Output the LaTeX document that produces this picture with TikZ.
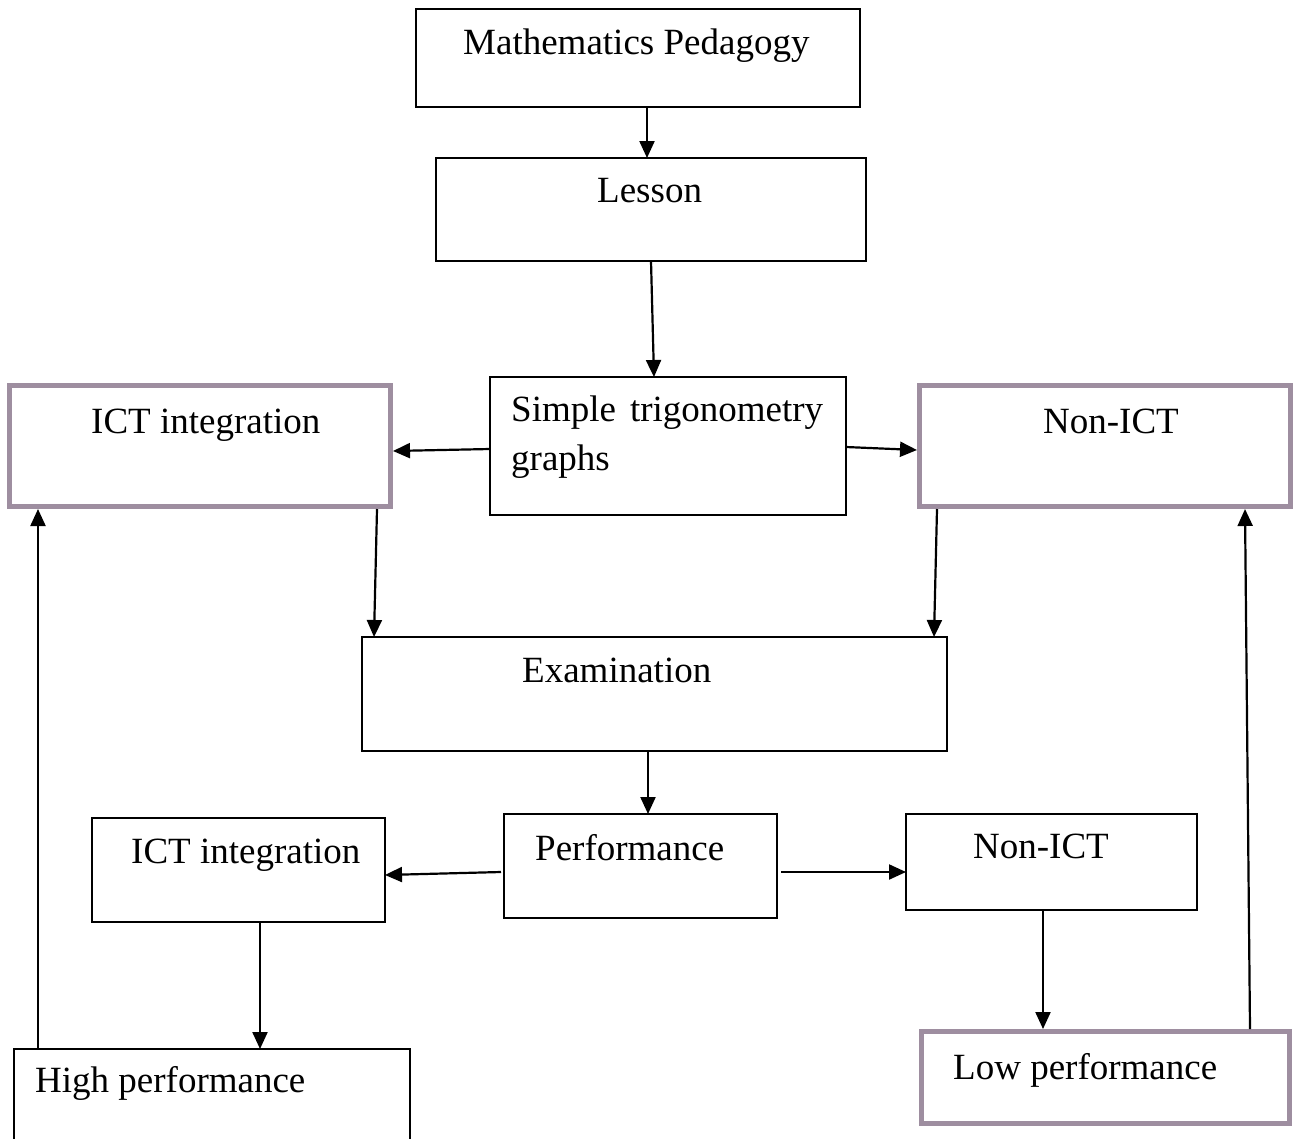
\documentclass[tikz,border=0pt]{standalone}
\usepackage{fontspec}
\setmainfont{Liberation Serif}
\usetikzlibrary{arrows.meta}
\definecolor{frame}{RGB}{158,142,160}
\begin{document}
\begin{tikzpicture}[x=1pt,y=-1pt,
  box/.style={draw=black,line width=2pt,rectangle,inner sep=0pt,outer sep=0pt},
  pbox/.style={draw=frame,line width=5pt,rectangle,inner sep=0pt,outer sep=0pt},
  txt/.style={inner sep=0pt,anchor=base west,font=\fontsize{37pt}{44pt}\selectfont},
  arr/.style={line width=2.2pt,-{Triangle[length=17pt,width=15pt]}},
  ln/.style={line width=2pt}]
\useasboundingbox[fill=white] (0,0) rectangle (1293,1138);
% boxes
\node[box,minimum width=444pt,minimum height=98pt] (mp) at (638,58) {};
\node[box,minimum width=430pt,minimum height=103pt] (lesson) at (651,209.5) {};
\node[box,minimum width=356pt,minimum height=138pt] (trig) at (668,446) {};
\node[pbox,minimum width=381pt,minimum height=121pt] (ictT) at (200,446) {};
\node[pbox,minimum width=371pt,minimum height=121pt] (nonT) at (1105,446) {};
\node[box,minimum width=585pt,minimum height=114pt] (exam) at (654.5,694) {};
\node[box,minimum width=273pt,minimum height=104pt] (perf) at (640.5,866) {};
\node[box,minimum width=293pt,minimum height=104pt] (ictB) at (238.5,870) {};
\node[box,minimum width=291pt,minimum height=96pt] (nonB) at (1051.5,862) {};
\node[box,minimum width=396pt,minimum height=111pt] (high) at (212,1104.5) {};
\node[pbox,minimum width=368pt,minimum height=92pt] (low) at (1105.5,1077.5) {};
% texts
\node[txt] (mpt) at (463,54) {Mathematics Pedagogy};
\node[txt] (lessont) at (597,202) {Lesson};
\node[txt] (trigt1) at (511,421) {\makebox[312pt][s]{Simple trigonometry}};
\node[txt] (trigt2) at (511,470) {graphs};
\node[txt] (ictTt) at (91,433) {ICT integration};
\node[txt] (nonTt) at (1043,433) {Non-ICT};
\node[txt] (examt) at (522,682) {Examination};
\node[txt] (perft) at (535,860) {Performance};
\node[txt] (ictBt) at (131,863) {ICT integration};
\node[txt] (nonBt) at (973,858) {Non-ICT};
\node[txt] (hight) at (35,1092) {High performance};
\node[txt] (lowt) at (953,1079) {Low performance};
% connectors
\draw[arr] ([xshift=9pt]mp.south) -- ([xshift=-4pt]lesson.north);
\draw[arr] (lesson.south) -- ([xshift=-14pt]trig.north);
\draw[arr] ([yshift=-3pt]trig.west) -- ([xshift=2.5pt,yshift=-5pt]ictT.east);
\draw[arr] ([yshift=-1pt]trig.east) -- ([xshift=-2.5pt,yshift=-4pt]nonT.west);
\draw[arr] ([xshift=177pt,yshift=-2.5pt]ictT.south) -- ([xshift=-280.5pt]exam.north);
\draw[arr] ([xshift=-168pt,yshift=-2.5pt]nonT.south) -- ([xshift=279.5pt]exam.north);
\draw[arr] ([xshift=-6.5pt]exam.south) -- ([xshift=7.5pt]perf.north);
\draw[arr] ([xshift=-3pt,yshift=-6pt]perf.west) -- ([yshift=-5pt]ictB.east);
\draw[arr] ([xshift=4pt,yshift=-6pt]perf.east) -- ([yshift=-10pt]nonB.west);
\draw[arr] ([xshift=21.5pt]ictB.south) -- ([xshift=48pt]high.north);
\draw[arr] ([xshift=-8.5pt]nonB.south) -- ([xshift=-62.5pt,yshift=2.5pt]low.north);
\draw[arr] ([xshift=-174pt]high.north) -- ([xshift=-162pt,yshift=-2.5pt]ictT.south);
\draw[arr] ([xshift=144.5pt,yshift=2.5pt]low.north) -- ([xshift=140pt,yshift=-2.5pt]nonT.south);
\end{tikzpicture}
\end{document}
